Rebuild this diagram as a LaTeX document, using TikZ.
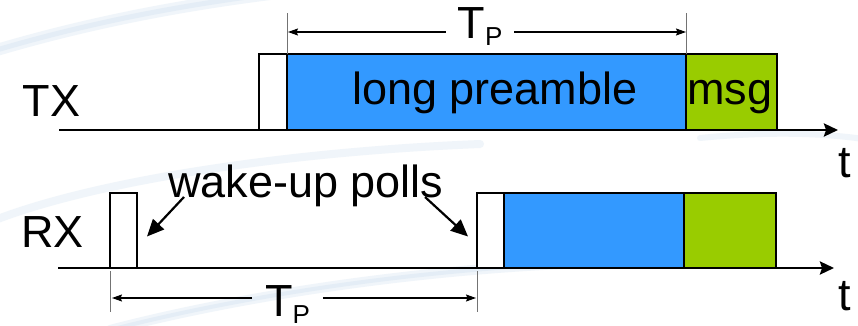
\documentclass[tikz,border=0pt]{standalone}
\usepackage{fontspec}
\setmainfont{Liberation Sans}
\usetikzlibrary{arrows.meta,calc}

\definecolor{preblue}{RGB}{51,153,255}
\definecolor{msggreen}{RGB}{153,204,0}
\definecolor{swoosh}{RGB}{180,208,230}

\tikzset{
  slot/.style={draw=black, line width=2.6pt, inner sep=0pt, outer sep=0pt, anchor=south west},
  axisline/.style={line width=2.6pt, -{Stealth[length=14pt,width=13pt,inset=2pt]}},
  tickline/.style={draw=black!55, line width=0.9pt},
  dimline/.style={line width=1.2pt, -{Stealth[length=10pt,width=7pt,inset=1.5pt]}},
  lbl/.style={font=\fontsize{45}{54}\selectfont, inner sep=0pt, outer sep=0pt},
  pointer/.style={line width=2.2pt, -{Triangle[length=17pt,width=15pt]}},
  bgswoosh/.style={draw=swoosh, line cap=round, opacity=0.2},
}
\newcommand{\periodlabel}{T\raisebox{-7pt}{\fontsize{26}{26}\selectfont P}}

\begin{document}
\begin{tikzpicture}[x=1pt, y=-1pt]
  % page area
  \fill[white] (0,0) rectangle (858,326);
  \useasboundingbox (0,0) rectangle (858,326);

  % faint background sweeps
  \draw[bgswoosh, line width=12pt] (-10,52) .. controls (70,28) and (160,8) .. (270,-6);
  \draw[bgswoosh, line width=5pt]  (-10,52) .. controls (70,28) and (160,8) .. (270,-6);
  \draw[bgswoosh, line width=8pt] (-10,222) .. controls (90,182) and (280,152) .. (480,144);
  \draw[bgswoosh, line width=10pt] (110,330) .. controls (240,296) and (430,266) .. (620,262);
  \draw[bgswoosh, line width=4pt]  (110,330) .. controls (240,296) and (430,266) .. (620,262);
  \draw[bgswoosh, line width=6pt] (700,138) .. controls (760,132) and (820,132) .. (870,140);

  % time axes
  \coordinate (txstart) at (59,130);
  \coordinate (txend)   at (838,130);
  \coordinate (rxstart) at (58,268);
  \coordinate (rxend)   at (834,268);
  \draw[axisline] (txstart) -- (txend);
  \draw[axisline] (rxstart) -- (rxend);

  % transmitter slots
  \node[slot, fill=white,    minimum width=28pt,  minimum height=76pt] (txpoll) at (259,130) {};
  \node[slot, fill=preblue,  minimum width=399pt, minimum height=76pt] (txpre)  at (287,130) {};
  \node[slot, fill=msggreen, minimum width=91pt,  minimum height=76pt] (txmsg)  at (686,130) {};

  % receiver slots
  \node[slot, fill=white,    minimum width=27pt,  minimum height=75pt] (rxpollA) at (110,268) {};
  \node[slot, fill=white,    minimum width=27pt,  minimum height=75pt] (rxpollB) at (477,268) {};
  \node[slot, fill=preblue,  minimum width=180pt, minimum height=75pt] (rxpre)   at (504,268) {};
  \node[slot, fill=msggreen, minimum width=92pt,  minimum height=75pt] (rxmsg)   at (684,268) {};

  % texts
  \node[lbl, anchor=base] (txlabel) at (51.5,117) {TX};
  \node[lbl, anchor=base] (rxlabel) at (52.5,247) {RX};
  \node[lbl, anchor=base] (pretext) at (495,104) {long preamble};
  \node[lbl, anchor=base] (msgtext) at (730,104) {msg};
  \node[lbl, anchor=base] (taxis)  at (845,177) {t};
  \node[lbl, anchor=base] (raxis)  at (845,310) {t};
  \node[lbl, anchor=base] (wake)   at (306,197) {wake-up polls};

  % preamble length on the TX line
  \draw[tickline] (txpre.north west) -- ++(0,-41) coordinate (tickA);
  \draw[tickline] (txpre.north east) -- ++(0,-41) coordinate (tickB);
  \coordinate (dimA) at (288,32);
  \coordinate (dimB) at (686,32);
  \node[lbl, anchor=base, inner xsep=12pt] (tptop) at (480,39) {\periodlabel};
  \draw[dimline] (tptop.west |- dimA) -- (dimA);
  \draw[dimline] (tptop.east |- dimB) -- (dimB);

  % poll interval on the RX line
  \draw[tickline] ($(rxpollA.south west)+(0,3)$) -- ++(0,41);
  \draw[tickline] ($(rxpollB.south west)+(0,3)$) -- ++(0,41);
  \coordinate (dimC) at (112,298);
  \coordinate (dimD) at (476,298);
  \node[lbl, anchor=base, inner xsep=13pt] (tpbot) at (287.5,316) {\periodlabel};
  \draw[dimline] (tpbot.west |- dimC) -- (dimC);
  \draw[dimline] (tpbot.east |- dimD) -- (dimD);

  % pointers to the two polls
  \coordinate (wakeL) at (184,197);
  \coordinate (wakeR) at (425,197);
  \coordinate (hitA) at ($(rxpollA.east)+(10,6)$);
  \coordinate (hitB) at ($(rxpollB.west)+(-9,6)$);
  \draw[pointer] (wakeL) -- (hitA);
  \draw[pointer] (wakeR) -- (hitB);
\end{tikzpicture}
\end{document}
